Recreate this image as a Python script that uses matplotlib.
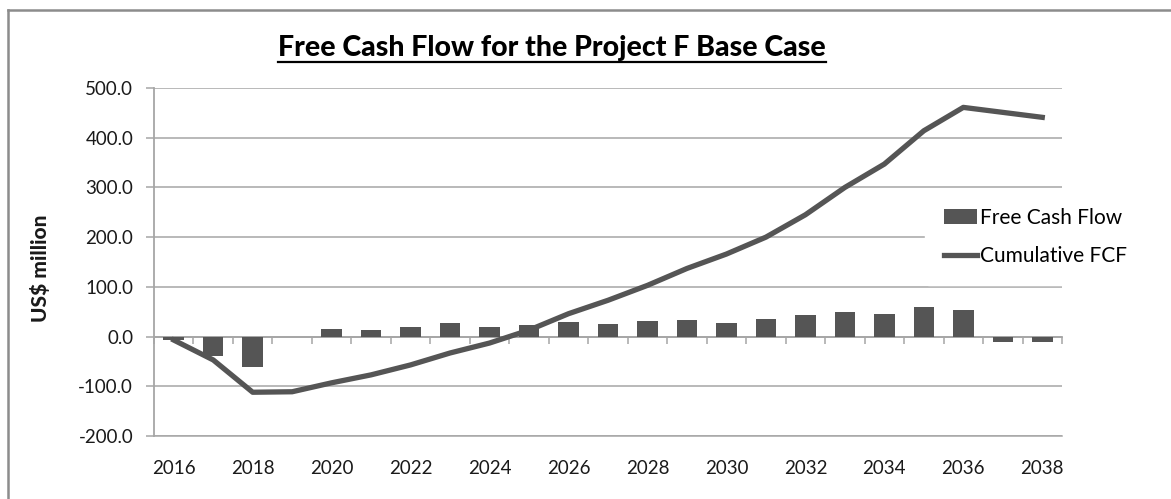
import matplotlib
matplotlib.use("Agg")
import matplotlib.pyplot as plt
from matplotlib.lines import Line2D
import numpy as np

plt.rcParams["font.family"] = ["Lato", "DejaVu Sans"]

years = list(range(2016, 2039))
free_cash_flow = [-7, -40, -62, 0, 16, 14, 20, 27, 20, 23, 29, 25,
                  31, 33, 27, 35, 44, 49, 45, 59, 53, -10, -10]
cumulative_fcf = [-7, -47, -112, -111, -93, -77, -57, -33, -13, 13, 46, 73,
                  103, 137, 166, 200, 245, 300, 347, 414, 461, 451, 441]
y_ticks = list(range(-200, 501, 100))

DARK = "#555555"
GRID = "#a6a6a6"
TXT = "#1a1a1a"

fig = plt.figure(figsize=(11.71, 4.99), dpi=100)
ax = fig.add_axes([154 / 1171, 1 - 436 / 499, (1062 - 154) / 1171, (436 - 88) / 499])

x = np.arange(len(years))
bars = ax.bar(x, free_cash_flow, width=0.52, color=DARK, zorder=2, label="Free Cash Flow")
line, = ax.plot(x, cumulative_fcf, color=DARK, lw=3.8, zorder=3, label="Cumulative FCF",
                solid_joinstyle="round")

ax.set_xlim(-0.5, len(years) - 0.5)
ax.set_ylim(-200, 500)
ax.set_yticks(y_ticks)
ax.set_yticklabels([f"{v:.1f}" for v in y_ticks])
ax.yaxis.grid(True, color=GRID, lw=1.1, zorder=0)
ax.set_axisbelow(True)

ax.set_xticks(x[::2])
ax.set_xticklabels([str(y) for y in years[::2]])
ax.tick_params(axis="x", length=0, pad=17, labelsize=13.5, labelcolor=TXT)
ax.tick_params(axis="y", length=6, width=1.1, color=GRID, direction="out",
               pad=9, labelsize=13.5, labelcolor=TXT)

for side in ["top", "right"]:
    ax.spines[side].set_visible(False)
ax.spines["left"].set_color(GRID)
ax.spines["left"].set_linewidth(1.3)
ax.spines["bottom"].set_color(GRID)
ax.spines["bottom"].set_linewidth(1.1)

# zero line with category-boundary tick marks
zero_pos = (0 - (-200)) / (500 - (-200))
sec = ax.secondary_xaxis(zero_pos)
sec.set_xticks(np.arange(-0.5, len(years), 1.0))
sec.tick_params(axis="x", length=5, width=1.1, color=GRID, direction="out",
                labelbottom=False, labeltop=False, bottom=True, top=False)
sec.spines["bottom"].set_color(GRID)
sec.spines["bottom"].set_linewidth(1.3)
sec.spines["top"].set_visible(False)

fig.text(40 / 1171, 1 - 268 / 499, "US$ million", rotation=90, ha="center",
         va="center", fontsize=15, fontweight="black", color=TXT)

title = fig.text(552 / 1171, 1 - 48 / 499, "Free Cash Flow for the Project F Base Case",
                 ha="center", va="center", fontsize=20.5, fontweight="black", color="black")

leg = ax.legend(handles=[bars, line], loc="center left",
                bbox_to_anchor=(925 / 1171, 1 - 237 / 499),
                bbox_transform=fig.transFigure, frameon=True, fontsize=15,
                handlelength=1.6, handletextpad=0.15, labelspacing=0.9,
                borderpad=0.9, borderaxespad=0)
leg.get_frame().set_facecolor("white")
leg.get_frame().set_edgecolor("white")
leg.get_frame().set_alpha(1)

# figure border (top and left only)
fig.add_artist(Line2D([8 / 1171, 1], [1 - 10 / 499, 1 - 10 / 499], color="#8c8c8c", lw=1.8,
                      transform=fig.transFigure))
fig.add_artist(Line2D([8 / 1171, 8 / 1171], [0, 1 - 10 / 499], color="#8c8c8c", lw=1.8,
                      transform=fig.transFigure))

# underline the title
fig.canvas.draw()
bb = title.get_window_extent().transformed(fig.transFigure.inverted())
fig.add_artist(Line2D([bb.x0, bb.x1], [bb.y0 - 1 / 499, bb.y0 - 1 / 499], color="black",
                      lw=1.6, transform=fig.transFigure))

fig.savefig("out.png", dpi=100)
